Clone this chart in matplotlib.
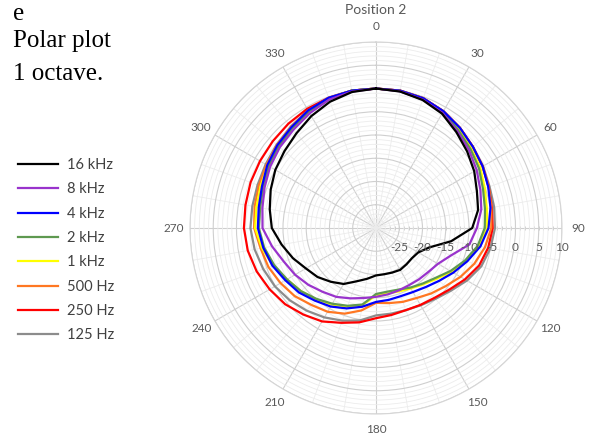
import numpy as np
from matplotlib import pyplot as plt

plt.rcParams['font.family'] = ['Lato', 'DejaVu Sans']

# angles in degrees, clockwise from the front (0)
angles = np.arange(0, 360, 10)

# levels in dB at each angle
spl_16k = [0, -0.2, -0.7, -1.6, -3.1, -4.4, -5.6, -6.9, -7.7, -9.3,
           -13.6, -17.8, -19.5, -19.9, -19.8, -19.6, -19.8, -19.9, -19.8, -18.9,
           -17.8, -16.1, -14.9, -13.6, -12.6, -11.0, -9.4, -7.6, -6.8, -5.9,
           -5.0, -4.3, -3.4, -2.2, -1.1, -0.3]
spl_8k = [0, -0.15, -0.6, -1.4, -2.8, -3.9, -5.0, -6.1, -7.0, -8.3,
          -9.6, -12.8, -14.6, -15.3, -15.6, -15.8, -15.7, -15.5, -15.2, -14.7,
          -13.9, -12.9, -12.1, -11.0, -9.9, -8.9, -7.3, -5.6, -5.2, -4.5,
          -3.7, -3.0, -2.4, -1.5, -0.6, -0.2]
spl_4k = [0, 0, -0.3, -1.0, -1.9, -2.8, -3.5, -4.3, -5.0, -5.8,
          -7.2, -9.1, -10.8, -12.3, -13.4, -14.1, -14.4, -14.3, -14.1, -12.8,
          -11.6, -10.5, -9.6, -8.4, -7.5, -6.3, -5.4, -4.6, -4.4, -3.9,
          -3.0, -2.3, -1.7, -0.8, -0.2, 0]
spl_2k = [0, -0.1, -0.5, -1.2, -2.5, -3.5, -4.4, -5.5, -6.2, -6.6,
          -7.8, -9.6, -11.5, -13.3, -14.4, -15.2, -15.9, -16.1, -15.8, -13.3,
          -12.2, -11.2, -10.1, -8.9, -7.9, -6.7, -5.6, -4.8, -4.7, -4.2,
          -3.4, -2.7, -2.0, -1.1, -0.4, 0]
spl_1k = [0, -0.05, -0.4, -1.1, -2.3, -3.3, -4.1, -5.1, -5.8, -6.1,
          -7.5, -9.3, -11.2, -13.0, -14.2, -15.0, -15.5, -15.7, -15.5, -13.2,
          -12.0, -11.0, -10.0, -8.9, -7.9, -6.4, -5.1, -4.0, -3.9, -3.6,
          -3.1, -2.5, -1.8, -0.9, -0.3, 0]
spl_500 = [0, 0, -0.3, -1.0, -1.9, -2.8, -3.5, -4.2, -4.8, -5.2,
           -6.2, -7.5, -9.0, -10.5, -11.6, -12.6, -13.1, -13.6, -13.9, -12.0,
           -10.4, -9.2, -8.4, -7.2, -6.3, -5.4, -4.8, -3.8, -3.5, -3.2,
           -2.8, -2.2, -1.6, -0.8, -0.3, 0]
spl_250 = [0, 0, -0.3, -1.0, -1.9, -2.8, -3.5, -4.2, -4.7, -4.9,
           -5.5, -6.4, -7.9, -9.4, -10.4, -10.9, -11.2, -11.0, -10.6, -9.4,
           -8.3, -6.8, -5.7, -4.5, -3.6, -2.7, -2.0, -1.6, -1.5, -1.3,
           -1.2, -1.0, -0.7, -0.4, -0.2, 0]
spl_125 = [0, 0, -0.3, -1.0, -1.9, -2.8, -3.4, -4.0, -4.2, -4.4,
           -5.0, -5.9, -7.4, -9.0, -10.1, -10.8, -11.2, -11.3, -11.2, -9.8,
           -8.8, -7.8, -6.8, -5.8, -4.9, -4.2, -3.5, -3.0, -3.0, -2.9,
           -2.6, -2.1, -1.5, -0.8, -0.3, 0]

labels = ['16 kHz', '8 kHz', '4 kHz', '2 kHz', '1 kHz', '500 Hz', '250 Hz', '125 Hz']
series = [spl_16k, spl_8k, spl_4k, spl_2k, spl_1k, spl_500, spl_250, spl_125]
colors = ['#000000', '#9933CC', '#0000FF', '#5E9950', '#FFFF00', '#FF7722', '#FF0000', '#8C8C8C']

fig = plt.figure(figsize=(5.9, 4.37), dpi=100)
ax = fig.add_axes([0.322, 0.0526, 0.6305, 0.8513], projection='polar')
ax.set_theta_zero_location('N')
ax.set_theta_direction(-1)
ax.set_ylim(-30, 10)

# grid
ax.set_yticks(np.arange(-25, 11, 5))
ax.set_yticks(np.arange(-29, 10, 1), minor=True)
ax.set_xticks(np.deg2rad(np.arange(0, 360, 30)))
ax.set_xticks(np.deg2rad(np.arange(0, 360, 10)), minor=True)
ax.set_xticklabels([])
ax.set_yticklabels([])
ax.grid(which='major', color='#cfcfcf', lw=0.8)
ax.grid(which='minor', color='#ececec', lw=0.6)
ax.spines['polar'].set_color('#d6d6d6')
ax.spines['polar'].set_linewidth(0.8)
ax.tick_params(which='both', length=0)

# small ticks along the 90 deg axis
ticks_r = np.arange(-27, 10, 1)
ax.plot(np.full(len(ticks_r), np.pi / 2), ticks_r, ls='none', marker='|',
        ms=3, mew=0.6, color='#c8c8c8', zorder=1)

th = np.deg2rad(np.append(angles, 360))
lines = {}
for lab, vals, col in reversed(list(zip(labels, series, colors))):
    v = np.append(vals, vals[0])
    ln, = ax.plot(th, v, color=col, lw=1.6, zorder=3)
    lines[lab] = ln

# angle labels
for a in range(0, 360, 30):
    ax.text(np.deg2rad(a), 13.4, str(a), ha='center', va='center',
            fontsize=8.5, color='#595959', clip_on=False)

# radial labels under the 90 deg axis
for r in range(-25, 11, 5):
    ax.annotate(str(r), xy=(np.pi / 2, r), xytext=(0, -19), textcoords='offset pixels',
                ha='center', va='center', fontsize=8.5, color='#595959')

fig.text(376 / 590, 1 - 10 / 437, 'Position 2', ha='center', va='center',
         fontsize=10, color='#595959')

fig.text(13 / 590, 1 - 20 / 437, 'e', family='Liberation Serif', fontsize=18, va='baseline')
fig.text(13 / 590, 1 - 47 / 437, 'Polar plot', family='Liberation Serif', fontsize=18, va='baseline')
fig.text(13 / 590, 1 - 80 / 437, '1 octave.', family='Liberation Serif', fontsize=18, va='baseline')

fig.legend([lines[l] for l in labels], labels, loc='upper left',
           bbox_to_anchor=(18 / 590, 1 - 158 / 437), frameon=False, fontsize=10.5,
           handlelength=2.75, handletextpad=0.6, labelspacing=0.71,
           borderaxespad=0, borderpad=0, labelcolor='#404040')

plt.savefig('out.png', dpi=100)
